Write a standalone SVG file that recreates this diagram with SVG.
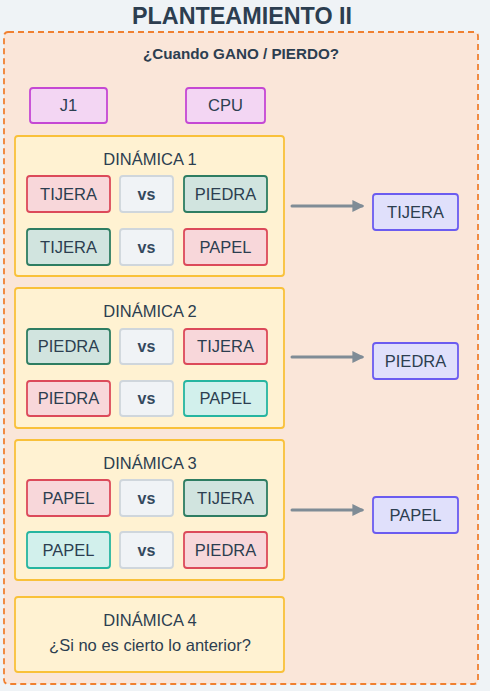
<svg xmlns="http://www.w3.org/2000/svg" width="490" height="691" viewBox="0 0 490 691">
<defs>
<style>
text{font-family:"Liberation Sans",Arial,sans-serif;fill:#2c3e50;text-anchor:middle}
.t{font-size:16.5px}
.vs{font-size:16px;font-weight:bold;fill:#34495e}
.h{font-size:16.5px}
.red{fill:#f8d7da;stroke:#dc4a5a;stroke-width:1.8}
.grn{fill:#d1e4df;stroke:#2e7d62;stroke-width:1.8}
.tea{fill:#d2f0ec;stroke:#26b5a0;stroke-width:1.8}
.gry{fill:#f0f3f6;stroke:#cfd6dc;stroke-width:1.8}
.ply{fill:#f3d6f3;stroke:#c548d4;stroke-width:1.8}
.res{fill:#e0e0fb;stroke:#6b5cf0;stroke-width:1.8}
.dyn{fill:#fff2d2;stroke:#f9c13a;stroke-width:1.8}
.arr{stroke:#7f8c96;stroke-width:3;fill:none;stroke-linecap:round}
</style>
<marker id="ah" viewBox="0 0 10 10" refX="8" refY="5" markerWidth="4" markerHeight="4" markerUnits="strokeWidth" orient="auto">
<path d="M0,0 L10,5 L0,10 z" fill="#7f8c96"/>
</marker>
</defs>
<rect x="0" y="0" width="490" height="691" fill="#eff3f6"/>
<text x="242" y="24" style="font-size:24px;font-weight:bold" textLength="220" lengthAdjust="spacingAndGlyphs">PLANTEAMIENTO II</text>
<g id="container">
<rect x="4" y="32" width="474" height="652" rx="4" fill="#fae6d9" stroke="#f08030" stroke-width="1.8" stroke-dasharray="6 4"/>
<text x="241" y="59" style="font-size:15.5px;font-weight:bold" textLength="196" lengthAdjust="spacingAndGlyphs">¿Cuando GANO / PIERDO?</text>
</g>
<g id="j1"><rect class="ply" x="30" y="88" width="77" height="35" rx="3"/><text class="t" x="68.5" y="111">J1</text></g>
<g id="cpu"><rect class="ply" x="186" y="88" width="79" height="35" rx="3"/><text class="t" x="225.5" y="111">CPU</text></g>

<g id="dinamica1">
<rect class="dyn" x="15" y="136" width="269" height="140" rx="3"/>
<text class="h" x="150" y="165">DINÁMICA 1</text>
<rect class="red" x="27" y="176" width="83" height="36" rx="3"/><text class="t" x="68.5" y="200">TIJERA</text>
<rect class="gry" x="120" y="176" width="53" height="36" rx="3"/><text class="vs" x="146.5" y="200">vs</text>
<rect class="grn" x="184" y="176" width="83" height="36" rx="3"/><text class="t" x="225.5" y="200">PIEDRA</text>
<rect class="grn" x="27" y="229" width="83" height="36" rx="3"/><text class="t" x="68.5" y="253">TIJERA</text>
<rect class="gry" x="120" y="229" width="53" height="36" rx="3"/><text class="vs" x="146.5" y="253">vs</text>
<rect class="red" x="184" y="229" width="83" height="36" rx="3"/><text class="t" x="225.5" y="253">PAPEL</text>
</g>

<g id="dinamica2">
<rect class="dyn" x="15" y="288" width="269" height="140" rx="3"/>
<text class="h" x="150" y="317">DINÁMICA 2</text>
<rect class="grn" x="27" y="329" width="83" height="35" rx="3"/><text class="t" x="68.5" y="352">PIEDRA</text>
<rect class="gry" x="120" y="329" width="53" height="35" rx="3"/><text class="vs" x="146.5" y="352">vs</text>
<rect class="red" x="184" y="329" width="83" height="35" rx="3"/><text class="t" x="225.5" y="352">TIJERA</text>
<rect class="red" x="27" y="381" width="83" height="35" rx="3"/><text class="t" x="68.5" y="404">PIEDRA</text>
<rect class="gry" x="120" y="381" width="53" height="35" rx="3"/><text class="vs" x="146.5" y="404">vs</text>
<rect class="tea" x="184" y="381" width="83" height="35" rx="3"/><text class="t" x="225.5" y="404">PAPEL</text>
</g>

<g id="dinamica3">
<rect class="dyn" x="15" y="440" width="269" height="140" rx="3"/>
<text class="h" x="150" y="469">DINÁMICA 3</text>
<rect class="red" x="27" y="480" width="83" height="36" rx="3"/><text class="t" x="68.5" y="504">PAPEL</text>
<rect class="gry" x="120" y="480" width="53" height="36" rx="3"/><text class="vs" x="146.5" y="504">vs</text>
<rect class="grn" x="184" y="480" width="83" height="36" rx="3"/><text class="t" x="225.5" y="504">TIJERA</text>
<rect class="tea" x="27" y="532" width="83" height="36" rx="3"/><text class="t" x="68.5" y="556">PAPEL</text>
<rect class="gry" x="120" y="532" width="53" height="36" rx="3"/><text class="vs" x="146.5" y="556">vs</text>
<rect class="red" x="184" y="532" width="83" height="36" rx="3"/><text class="t" x="225.5" y="556">PIEDRA</text>
</g>

<g id="dinamica4">
<rect class="dyn" x="15" y="597" width="269" height="75" rx="3"/>
<text class="h" x="150" y="626">DINÁMICA 4</text>
<text class="h" x="150" y="651">¿Si no es cierto lo anterior?</text>
</g>

<g id="r1"><rect class="res" x="373" y="194" width="85" height="36" rx="3"/><text class="t" x="415.5" y="218">TIJERA</text></g>
<g id="r2"><rect class="res" x="373" y="343" width="85" height="36" rx="3"/><text class="t" x="415.5" y="367">PIEDRA</text></g>
<g id="r3"><rect class="res" x="373" y="497" width="85" height="36" rx="3"/><text class="t" x="415.5" y="521">PAPEL</text></g>

<g id="connectors">
<line class="arr" x1="292" y1="206" x2="362" y2="206" marker-end="url(#ah)"/>
<line class="arr" x1="292" y1="357" x2="362" y2="357" marker-end="url(#ah)"/>
<line class="arr" x1="292" y1="510" x2="362" y2="510" marker-end="url(#ah)"/>
</g>
</svg>
